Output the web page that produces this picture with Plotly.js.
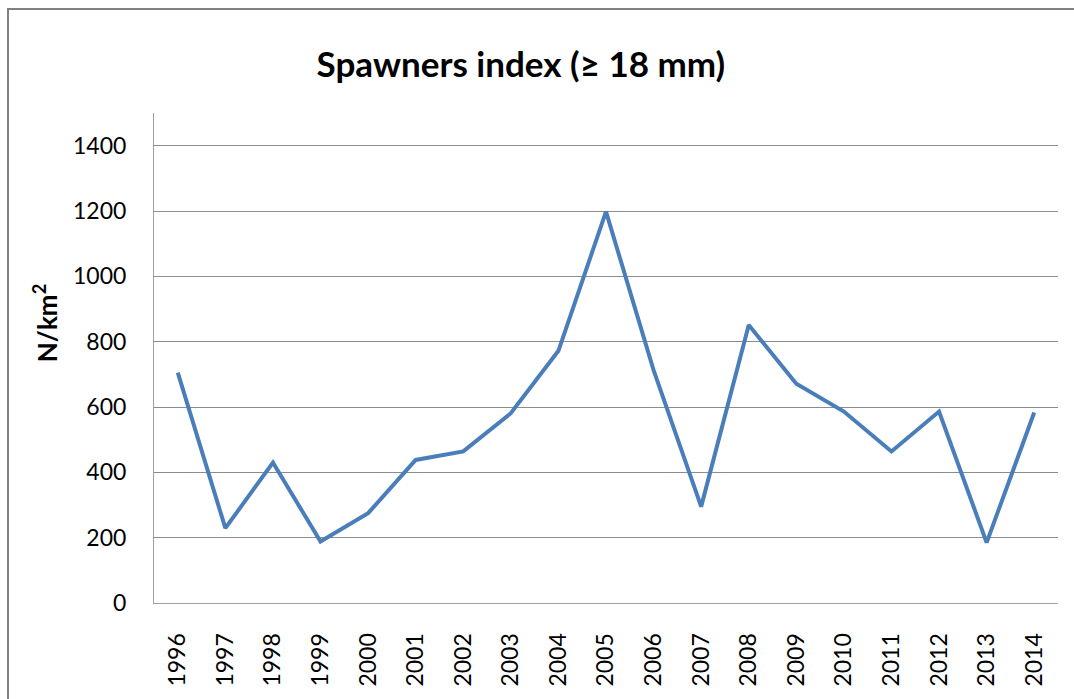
<!DOCTYPE html>
<html>
<head>
<meta charset="utf-8">
<script src="https://cdn.plot.ly/plotly-3.0.1.min.js"></script>
<style>
  html, body { margin: 0; padding: 0; background: #fff; }
  #chart { width: 1074px; height: 699px; }
</style>
</head>
<body>
<div id="chart"></div>
<script>
'use strict';

// years on the category axis
var years = ['1996', '1997', '1998', '1999', '2000', '2001', '2002', '2003', '2004', '2005',
             '2006', '2007', '2008', '2009', '2010', '2011', '2012', '2013', '2014'];

// spawners index, N/km2
var spawners = [705, 229, 430, 188, 275, 438, 464, 581, 772, 1198,
                713, 295, 851, 671, 586, 464, 586, 185, 583];

// y axis ticks
var yTicks = [0, 200, 400, 600, 800, 1000, 1200, 1400];

var trace = {
    x: years,
    y: spawners,
    type: 'scatter',
    mode: 'lines',
    line: {color: '#4a7ebb', width: 4},
    hoverinfo: 'x+y'
};

var font = 'Lato, "Open Sans", "Liberation Sans", sans-serif';

var layout = {
    width: 1074,
    height: 699,
    margin: {l: 154, r: 16, t: 113, b: 96},
    paper_bgcolor: '#fff',
    plot_bgcolor: '#fff',
    showlegend: false,
    font: {family: font, color: '#000'},
    title: {
        text: '<b>Spawners index (≥ 18 mm)</b>',
        font: {size: 35, family: font, color: '#000'},
        xref: 'container', x: 0.485, xanchor: 'center',
        yref: 'container', y: 0.907, yanchor: 'middle'
    },
    xaxis: {
        type: 'category',
        range: [-0.5, 18.5],
        tickangle: -90,
        tickfont: {size: 23},
        ticks: '',
        ticklabelstandoff: 20,
        showgrid: false,
        showline: true,
        linecolor: '#a0a0a0',
        linewidth: 1,
        zeroline: false,
        fixedrange: true
    },
    yaxis: {
        range: [0, 1500],
        tickvals: yTicks,
        tickfont: {size: 23},
        ticks: '',
        ticklabelstandoff: 22,
        showgrid: true,
        gridcolor: '#8c8c8c',
        gridwidth: 1,
        showline: true,
        linecolor: '#a0a0a0',
        linewidth: 1,
        zeroline: false,
        fixedrange: true
    },
    annotations: [{
        text: '<b>N/km<sup>2</sup></b>',
        textangle: -90,
        xref: 'paper', yref: 'paper',
        x: -0.1206, y: 0.571,
        xanchor: 'center', yanchor: 'middle',
        showarrow: false,
        font: {size: 26, family: font, color: '#000'}
    }],
    shapes: [{
        // chart frame
        type: 'rect',
        xref: 'paper', yref: 'paper',
        x0: -0.1615, x1: 1.05,
        y0: -0.25, y1: 1.2122,
        line: {color: '#808080', width: 2},
        layer: 'below'
    }]
};

Plotly.newPlot('chart', [trace], layout, {displayModeBar: false, staticPlot: true});
</script>
</body>
</html>
